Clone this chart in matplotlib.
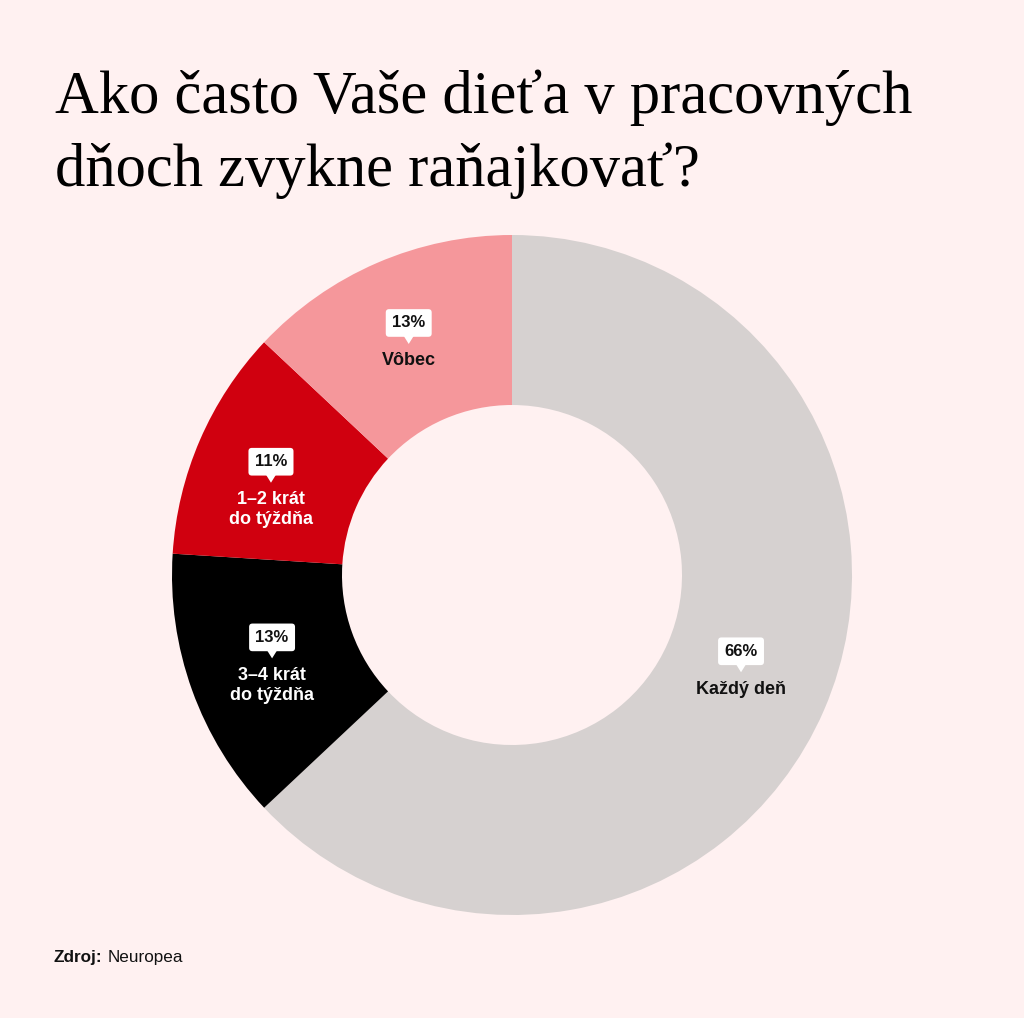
import matplotlib.pyplot as plt
import numpy as np

# data (clockwise from 12 o'clock)
categories = ["Každý deň", "3–4 krát\ndo týždňa", "1–2 krát\ndo týždňa", "Vôbec"]
pct_labels = [66, 13, 11, 13]          # printed on the chart
shares = [63, 13, 11, 13]              # wedge sizes as drawn in the picture
colors = ["#d6d1d0", "#000000", "#d0000f", "#f5979b"]
text_colors = ["#111111", "#ffffff", "#ffffff", "#111111"]

title_lines = ["Ako často Vaše dieťa v pracovných", "dňoch zvykne raňajkovať?"]
bg = "#fff1f1"

# small label nudges in pixels (dx right, dy down)
nudge = [(-5, -6), (0, 0), (-7, 12), (-2, 1)]

W, H = 1024, 1018
fig = plt.figure(figsize=(W / 100, H / 100), dpi=100, facecolor=bg)

# donut axes: centre at (512, 575) px, outer radius 340 px
r_px = 340
cx, cy = 512, 575
ax = fig.add_axes([(cx - r_px) / W, (H - cy - r_px) / H, 2 * r_px / W, 2 * r_px / H])
ax.set_facecolor(bg)

wedges, _ = ax.pie(shares, colors=colors, startangle=90, counterclock=False,
                   radius=1.0, wedgeprops=dict(width=0.5, linewidth=0))
ax.set_xlim(-1, 1)
ax.set_ylim(-1, 1)
ax.set_aspect("equal")
ax.axis("off")

px = 1 / r_px  # one pixel in data units
lab_font = ["Liberation Sans", "DejaVu Sans"]
for w, cat, v, tc, (ndx, ndy) in zip(wedges, categories, pct_labels, text_colors, nudge):
    mid = np.deg2rad((w.theta1 + w.theta2) / 2)
    x = 0.75 * np.cos(mid) + ndx * px
    y = 0.75 * np.sin(mid) - ndy * px
    two = "\n" in cat
    off = 24 if two else 19
    box_y = y + off * px
    txt_y = y - off * px
    ax.text(x, box_y, f"{v}%", ha="center", va="center", fontsize=12,
            fontweight="bold", family=lab_font, color="#111111", zorder=4,
            bbox=dict(boxstyle="round,pad=0.38,rounding_size=0.2", fc="white", ec="none"))
    bb = box_y - 13 * px
    ax.fill([x - 5 * px, x + 5 * px, x], [bb, bb, bb - 8 * px], color="white", lw=0, zorder=3)
    ax.text(x, txt_y, cat, ha="center", va="center", fontsize=13, fontweight="bold",
            family=lab_font, color=tc, linespacing=1.2, zorder=4)

serif = ["Liberation Serif", "DejaVu Serif"]
for i, line in enumerate(title_lines):
    fig.text(55 / W, 1 - (113 + 73 * i) / H, line, ha="left", va="baseline",
             fontsize=43.7, family=serif, color="#000000")

fig.text(53 / W, 1 - 962 / H, "Zdroj:", ha="left", va="baseline", fontsize=12.3,
         fontweight="bold", family=lab_font, color="#111111")
fig.text(108 / W, 1 - 962 / H, "Neuropea", ha="left", va="baseline", fontsize=12.3,
         family=lab_font, color="#111111")

fig.savefig("out.png", dpi=100, facecolor=bg)
